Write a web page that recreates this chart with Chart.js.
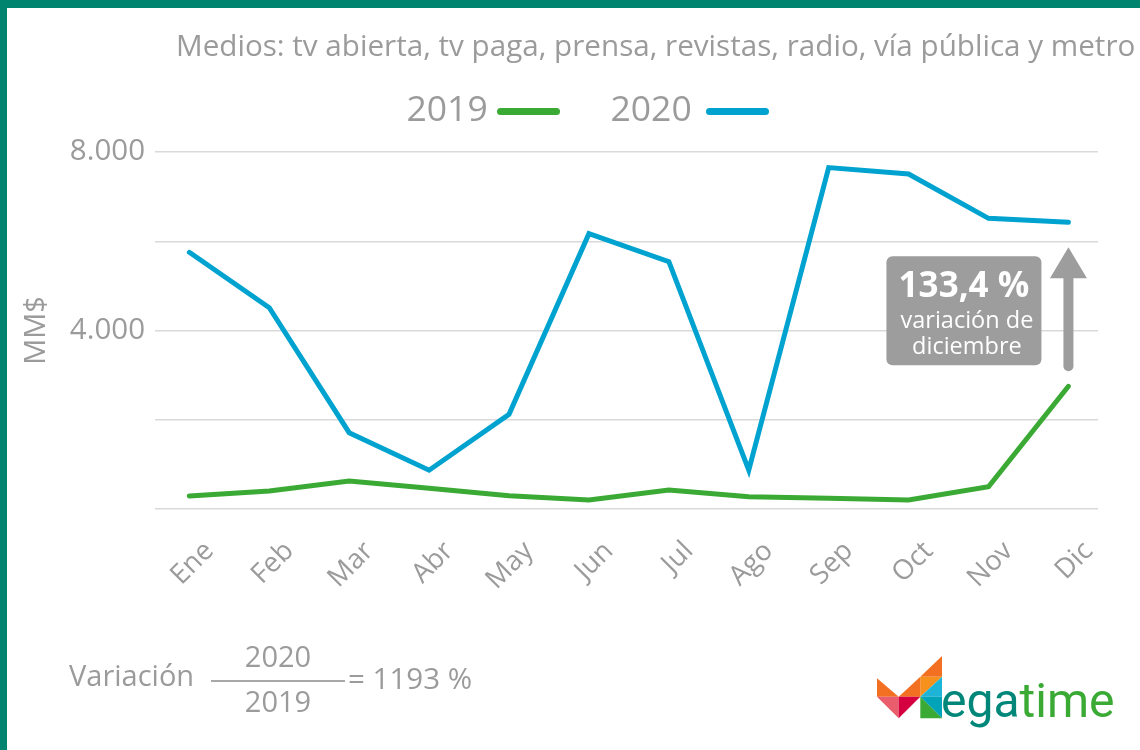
<!DOCTYPE html>
<html><head><meta charset="utf-8">
<script src="https://cdn.jsdelivr.net/npm/chart.js@4.4.1/dist/chart.umd.min.js"></script>
<style>
html,body{margin:0;padding:0;background:#fff;}
#wrap{position:relative;width:1140px;height:750px;overflow:hidden;font-family:'Open Sans',sans-serif;color:#9b9b9b;}
#chartBox{position:absolute;left:0;top:0;width:1140px;height:750px;}
.abs{position:absolute;white-space:nowrap;line-height:1;}
</style></head><body>
<div id="wrap">
  <div id="chartBox"><canvas id="c"></canvas></div>
  <div class="abs" style="left:0;top:0;width:1140px;height:8px;background:#00846f"></div>
  <div class="abs" style="left:0;top:0;width:7px;height:750px;background:#00846f"></div>
  <div id="title" class="abs">Medios: tv abierta, tv paga, prensa, revistas, radio, vía pública y metro</div>
  <div id="legend"></div>
  <div class="abs" style="left:69px;top:660px;font-size:29px">Variación</div>
  <div class="abs" style="left:211px;top:641px;width:134px;text-align:center;font-size:29px">2020</div>
  <div class="abs" style="left:211px;top:679.5px;width:134px;height:2.5px;background:#a8a8a8"></div>
  <div class="abs" style="left:211px;top:686px;width:134px;text-align:center;font-size:29px">2019</div>
  <div class="abs" style="left:348px;top:663px;font-size:29.5px">= 1193 %</div>
  <svg class="abs" style="left:872px;top:650px" width="80" height="75" viewBox="0 0 80 75">
    <polygon points="70,6 48.3,26.7 70,26.7" fill="#f36f21"/>
    <polygon points="48.3,26.7 70,26.7 48.3,46.7" fill="#f7911e"/>
    <polygon points="70,26.7 70,46.7 48.3,46.7" fill="#1eb4d8"/>
    <polygon points="26.7,46.7 48.3,26.7 48.3,46.7" fill="#f36f21"/>
    <polygon points="5,28.3 5,46.7 26.7,46.7" fill="#f36f21"/>
    <polygon points="5,46.7 26.7,46.7 26.7,68.3" fill="#ea5d6d"/>
    <polygon points="26.7,46.7 48.3,46.7 26.7,68.3" fill="#d4003f"/>
    <polygon points="48.3,46.7 70,46.7 70,68.3" fill="#00a3b8"/>
    <polygon points="48.3,46.7 48.3,68.3 70,68.3" fill="#3aaa35"/>
  </svg>
  <div class="abs" style="left:941px;top:677px;font-family:Roboto,sans-serif;font-size:48px"><span style="color:#00877a">ega</span><span style="color:#3aaa35">time</span></div>
</div>
<script>
// ---- data ----
const months = ['Ene','Feb','Mar','Abr','May','Jun','Jul','Ago','Sep','Oct','Nov','Dic'];
const seriesNames = ['2019','2020'];
const v2019 = [291, 403, 627, 463, 298, 202, 426, 276, 240, 202, 500, 2750];
const v2020 = [5752, 4511, 1710, 870, 2122, 6170, 5542, 870, 7650, 7507, 6514, 6425];
const yTickValues = [0, 2000, 4000, 6000, 8000];
const yTickLabels = ['', '', '4.000', '', '8.000'];
const pctLabel = '133,4 %';
const pctLines = ['variación de', 'diciembre'];

const GREEN = '#3aaa35', BLUE = '#00a3cf', GRAY = '#9b9b9b', BOXGRAY = '#9d9d9d';

const arrowPlugin = {
  id: 'decArrow',
  afterDatasetsDraw(chart) {
    const {ctx, scales: {x, y}} = chart;
    const last = months.length - 1;
    const ax = x.getPixelForValue(last);
    const tip = y.getPixelForValue(v2020[last]) + 25;
    const bottom = y.getPixelForValue(v2019[last]) - 15;
    ctx.save();
    ctx.fillStyle = BOXGRAY; ctx.strokeStyle = BOXGRAY;
    ctx.beginPath(); ctx.moveTo(ax, tip); ctx.lineTo(ax + 18.5, tip + 31); ctx.lineTo(ax - 18.5, tip + 31); ctx.closePath(); ctx.fill();
    ctx.lineWidth = 10; ctx.lineCap = 'round';
    ctx.beginPath(); ctx.moveTo(ax, tip + 30); ctx.lineTo(ax, bottom - 5); ctx.stroke();
    const bx = ax - 182, by = tip + 9, bw = 155, bh = (bottom - 6) - by;
    ctx.beginPath(); ctx.roundRect(bx, by, bw, bh, 6); ctx.fill();
    ctx.fillStyle = '#fff'; ctx.textAlign = 'center'; ctx.textBaseline = 'alphabetic';
    ctx.font = "bold 35px 'Open Sans'";
    ctx.fillText(pctLabel, bx + bw / 2, tip + 50);
    ctx.font = "23.5px 'Open Sans'";
    ctx.fillText(pctLines[0], bx + bw / 2 + 3, tip + 81);
    ctx.fillText(pctLines[1], bx + bw / 2 + 3, tip + 107);
    ctx.restore();
  }
};

const toXY = arr => arr.map((v, i) => ({x: i, y: v}));

const chart = new Chart(document.getElementById('c'), {
  type: 'line',
  data: {
    datasets: [
      {label: seriesNames[0], data: toXY(v2019), borderColor: GREEN, backgroundColor: GREEN},
      {label: seriesNames[1], data: toXY(v2020), borderColor: BLUE, backgroundColor: BLUE}
    ]
  },
  options: {
    responsive: true, maintainAspectRatio: false, animation: false,
    layout: {padding: {top: 152, right: 42, left: 0, bottom: 0}},
    elements: {
      line: {borderWidth: 5, tension: 0, borderCapStyle: 'round', borderJoinStyle: 'miter', fill: false},
      point: {radius: 0, hoverRadius: 0}
    },
    plugins: {legend: {display: false}, title: {display: false}, tooltip: {enabled: false}},
    scales: {
      x: {
        type: 'linear', min: -0.43, max: 11.37,
        afterBuildTicks: s => { s.ticks = months.map((m, i) => ({value: i})); },
        afterFit: s => { s.height = 241; s.paddingLeft = 0; s.paddingRight = 0; },
        grid: {display: false, drawTicks: false},
        border: {display: false},
        ticks: {
          autoSkip: false, minRotation: 45, maxRotation: 45, padding: 26, labelOffset: 20,
          color: GRAY, font: {family: "'Open Sans'", size: 27.5},
          callback: v => months[v]
        }
      },
      y: {
        min: 0, max: 8000,
        afterBuildTicks: s => { s.ticks = yTickValues.map(v => ({value: v})); },
        afterFit: s => { s.width = 155; },
        grid: {color: '#d9d9d9', lineWidth: 1.5, drawTicks: false},
        border: {display: false},
        ticks: {
          padding: 10, color: GRAY, font: {family: "'Open Sans'", size: 29.5},
          callback: v => yTickLabels[yTickValues.indexOf(v)]
        },
        title: {display: true, text: 'MM$', color: GRAY, font: {family: "'Open Sans'", size: 29}, padding: {top: 19, bottom: 0}}
      }
    }
  },
  plugins: [arrowPlugin]
});

// legend (text then line swatch)
const legendPos = [{text: 406.5, sw: 497}, {text: 610.5, sw: 706}];
const legend = document.getElementById('legend');
chart.data.datasets.forEach((ds, i) => {
  const t = document.createElement('div');
  t.className = 'abs'; t.textContent = ds.label;
  t.style.cssText = `left:${legendPos[i].text}px;top:90px;font-size:35.5px;`;
  legend.appendChild(t);
  const s = document.createElement('div');
  s.className = 'abs';
  s.style.cssText = `left:${legendPos[i].sw}px;top:107.5px;width:63px;height:7px;border-radius:4px;background:${ds.borderColor};`;
  legend.appendChild(s);
});

// title fitted to its width in the reference
const title = document.getElementById('title');
const mc = document.createElement('canvas').getContext('2d');
mc.font = "30px 'Open Sans'";
const tw = mc.measureText(title.textContent).width;
const F = 30 * 960 / tw;
title.style.fontSize = F + 'px';
title.style.left = '176px';
title.style.top = (56.7 - 0.888 * F) + 'px';
</script>
</body></html>
